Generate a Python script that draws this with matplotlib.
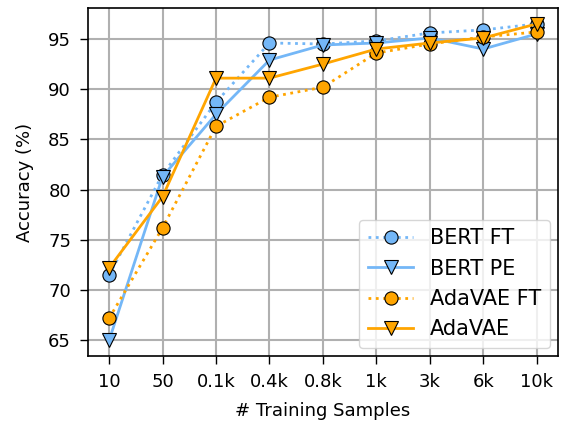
import matplotlib
matplotlib.use("Agg")
import matplotlib.pyplot as plt

# data
samples = ["10", "50", "0.1k", "0.4k", "0.8k", "1k", "3k", "6k", "10k"]
bert_ft = [71.5, 81.5, 88.7, 94.6, 94.5, 94.8, 95.6, 95.9, 96.5]
bert_pe = [65.0, 81.3, 87.5, 92.9, 94.4, 94.6, 95.1, 94.0, 95.5]
adavae_ft = [67.2, 76.2, 86.3, 89.2, 90.2, 93.6, 94.5, 95.2, 95.7]
adavae = [72.2, 79.3, 91.1, 91.1, 92.5, 94.0, 94.6, 95.1, 96.5]

blue = "#74b7f7"
orange = "orange"

fig = plt.figure(figsize=(5.66, 4.25), dpi=100)
ax = fig.add_axes([0.155, 0.162, 0.831, 0.819])
x = list(range(len(samples)))

ax.plot(x, bert_ft, ":", color=blue, lw=2, marker="o", ms=9.5,
        mfc=blue, mec="black", mew=0.8, label="BERT FT")
ax.plot(x, bert_pe, "-", color=blue, lw=2, marker="v", ms=9.5,
        mfc=blue, mec="black", mew=0.8, label="BERT PE")
ax.plot(x, adavae_ft, ":", color=orange, lw=2, marker="o", ms=9.5,
        mfc=orange, mec="black", mew=0.8, label="AdaVAE FT")
ax.plot(x, adavae, "-", color=orange, lw=2, marker="v", ms=9.5,
        mfc=orange, mec="black", mew=0.8, label="AdaVAE")

ax.set_xticks(x)
ax.set_xticklabels(samples)
ax.set_yticks([65, 70, 75, 80, 85, 90, 95])
ax.tick_params(labelsize=13, length=6, width=1, pad=6)
ax.set_xlabel("# Training Samples", fontsize=13, labelpad=8)
ax.set_ylabel("Accuracy (%)", fontsize=13, labelpad=10)
for sp in ax.spines.values():
    sp.set_linewidth(1.2)
ax.grid(True, color="#b0b0b0", lw=1.5)
ax.set_axisbelow(True)
ax.legend(loc="lower right", fontsize=15, handlelength=2.2,
          borderaxespad=0.4, labelspacing=0.5)

fig.savefig("out.png", dpi=100)
